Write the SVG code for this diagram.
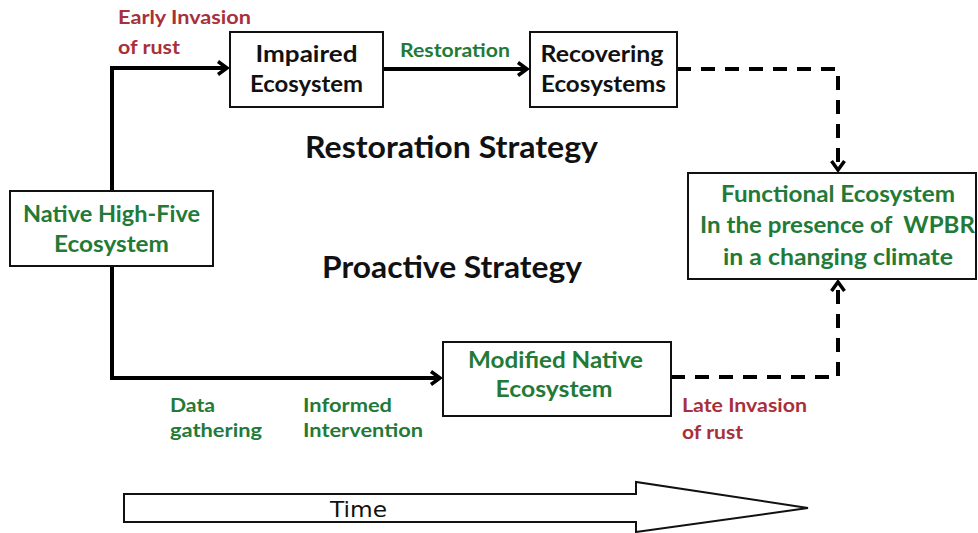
<svg xmlns="http://www.w3.org/2000/svg" width="978" height="533" viewBox="0 0 978 533">
<style>
text{font-family:Lato,"Open Sans","Liberation Sans",sans-serif;font-weight:bold}
.box{fill:#fff;stroke:#111;stroke-width:2}
.node{font-size:23px;text-anchor:middle;fill:#111}
.gnode{font-size:23px;text-anchor:middle;fill:#237a37}
.lbl{font-size:19.5px}
.g{fill:#237a37}
.r{fill:#a8303a}
.head{font-size:30px;fill:#111}
.conn{fill:none;stroke:#000;stroke-width:4}
.dash{stroke-dasharray:14 10}
</style>
<defs>
<marker id="arr" markerUnits="userSpaceOnUse" markerWidth="14" markerHeight="16" refX="11" refY="8" orient="auto">
<path d="M2,1.5 L11,8 L2,14.5" fill="none" stroke="#000" stroke-width="3.5"/>
</marker>
</defs>
<g id="connectors">
<path class="conn" d="M112,191 V68 H227" marker-end="url(#arr)"/>
<path class="conn" d="M112,266 V378 H440" marker-end="url(#arr)"/>
<path class="conn" d="M383,69 H527" marker-end="url(#arr)"/>
<path class="conn dash" d="M677,69 H838 V170" marker-end="url(#arr)"/>
<path class="conn dash" d="M671,377 H838 V282" marker-end="url(#arr)"/>
</g>
<g id="native">
<rect class="box" x="10" y="191" width="203" height="75"/>
<text class="gnode" x="111.5" y="222" textLength="177" lengthAdjust="spacingAndGlyphs">Native High-Five</text>
<text class="gnode" x="111.5" y="252" textLength="115" lengthAdjust="spacingAndGlyphs">Ecosystem</text>
</g>
<g id="impaired">
<rect class="box" x="230" y="32" width="153" height="75"/>
<text class="node" x="306.5" y="62" textLength="102" lengthAdjust="spacingAndGlyphs">Impaired</text>
<text class="node" x="306.5" y="92" textLength="113" lengthAdjust="spacingAndGlyphs">Ecosystem</text>
</g>
<g id="recovering">
<rect class="box" x="530" y="32" width="147" height="75"/>
<text class="node" x="602" y="62" textLength="123" lengthAdjust="spacingAndGlyphs">Recovering</text>
<text class="node" x="603.5" y="92" textLength="125" lengthAdjust="spacingAndGlyphs">Ecosystems</text>
</g>
<g id="functional">
<rect class="box" x="688" y="173" width="288" height="106"/>
<text class="gnode" x="838" y="202" textLength="234" lengthAdjust="spacingAndGlyphs">Functional Ecosystem</text>
<text class="gnode" x="837.5" y="233" textLength="275" lengthAdjust="spacingAndGlyphs" xml:space="preserve">In the presence of  WPBR</text>
<text class="gnode" x="838" y="265" textLength="230" lengthAdjust="spacingAndGlyphs">in a changing climate</text>
</g>
<g id="modified">
<rect class="box" x="443" y="342" width="228" height="74"/>
<text class="gnode" x="555.5" y="368" textLength="175" lengthAdjust="spacingAndGlyphs">Modified Native</text>
<text class="gnode" x="554" y="397" textLength="117" lengthAdjust="spacingAndGlyphs">Ecosystem</text>
</g>
<g id="labels">
<text class="lbl r" x="118" y="24" textLength="133" lengthAdjust="spacingAndGlyphs">Early Invasion</text>
<text class="lbl r" x="118" y="54" textLength="62" lengthAdjust="spacingAndGlyphs">of rust</text>
<text class="lbl g" x="400" y="57" textLength="110" lengthAdjust="spacingAndGlyphs">Restoration</text>
<text class="lbl g" x="170" y="412" textLength="45" lengthAdjust="spacingAndGlyphs">Data</text>
<text class="lbl g" x="170" y="437" textLength="92" lengthAdjust="spacingAndGlyphs">gathering</text>
<text class="lbl g" x="303" y="412" textLength="89" lengthAdjust="spacingAndGlyphs">Informed</text>
<text class="lbl g" x="303" y="437" textLength="120" lengthAdjust="spacingAndGlyphs">Intervention</text>
<text class="lbl r" x="682" y="412" textLength="125" lengthAdjust="spacingAndGlyphs">Late Invasion</text>
<text class="lbl r" x="682" y="439" textLength="61" lengthAdjust="spacingAndGlyphs">of rust</text>
<text class="head" x="305" y="158" textLength="293" lengthAdjust="spacingAndGlyphs">Restoration Strategy</text>
<text class="head" x="322" y="278" textLength="260" lengthAdjust="spacingAndGlyphs">Proactive Strategy</text>
</g>
<g id="time">
<polygon points="124,494 636,494 636,482 808,508 636,532 636,522 124,522" fill="#fff" stroke="#111" stroke-width="2"/>
<text x="330" y="517" textLength="57" lengthAdjust="spacingAndGlyphs" style="font-family:'DejaVu Sans',Verdana,sans-serif;font-weight:normal;font-size:22px;fill:#111">Time</text>
</g>
</svg>
